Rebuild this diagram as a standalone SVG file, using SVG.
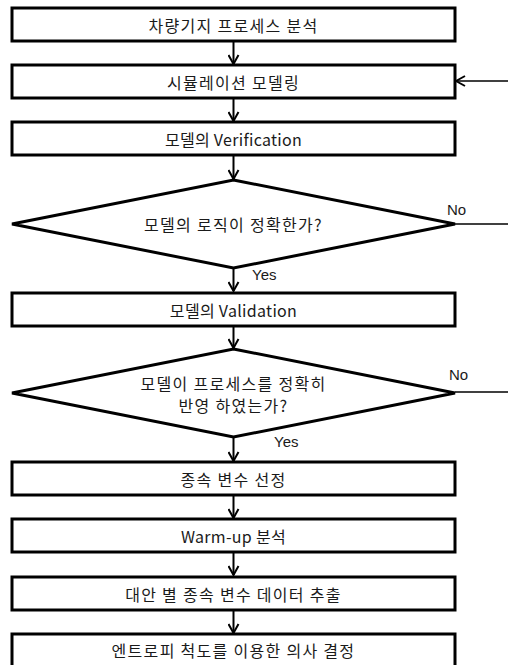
<svg xmlns="http://www.w3.org/2000/svg" width="508" height="665" viewBox="0 0 508 665">
<defs>
<style>
.box{fill:#fff;stroke:#000;stroke-width:3}
.dia{fill:#fff;stroke:#000;stroke-width:3;stroke-linejoin:miter}
.t{font-family:"Malgun Gothic","Noto Sans CJK KR","Liberation Sans",sans-serif;font-size:16px;letter-spacing:1.3px;fill:#1a1a1a;text-anchor:middle;dominant-baseline:central}
.l{letter-spacing:0.3px}
.lbl{font-family:"Liberation Sans","Noto Sans",sans-serif;font-size:15px;fill:#1a1a1a}
.c{fill:none;stroke:#000;stroke-width:2}
.fb{fill:none;stroke:#000;stroke-width:1.5}
</style>
<marker id="ah" viewBox="0 0 12 12" refX="11" refY="6" markerWidth="12" markerHeight="12" markerUnits="userSpaceOnUse" orient="auto">
<path d="M2,1 L11,6 L2,11" fill="none" stroke="#000" stroke-width="2"/>
</marker>
</defs>
<rect width="508" height="665" fill="#fff"/>
<g id="connectors">
<line class="c" x1="233.5" y1="41" x2="233.5" y2="64" marker-end="url(#ah)"/>
<line class="c" x1="233.5" y1="98" x2="233.5" y2="121" marker-end="url(#ah)"/>
<line class="c" x1="233.5" y1="155" x2="233.5" y2="179" marker-end="url(#ah)"/>
<line class="c" x1="233.5" y1="268" x2="233.5" y2="291" marker-end="url(#ah)"/>
<line class="c" x1="233.5" y1="326" x2="233.5" y2="348" marker-end="url(#ah)"/>
<line class="c" x1="233.5" y1="437" x2="233.5" y2="461" marker-end="url(#ah)"/>
<line class="c" x1="233.5" y1="495" x2="233.5" y2="518" marker-end="url(#ah)"/>
<line class="c" x1="233.5" y1="552" x2="233.5" y2="575" marker-end="url(#ah)"/>
<line class="c" x1="233.5" y1="610" x2="233.5" y2="633" marker-end="url(#ah)"/>
<line class="fb" x1="508" y1="81" x2="456" y2="81" marker-end="url(#ah)"/>
<line class="fb" x1="455" y1="224" x2="508" y2="224"/>
<line class="fb" x1="455" y1="392" x2="508" y2="392"/>
<text class="lbl" x="447" y="215">No</text>
<text class="lbl" x="449" y="380">No</text>
<text class="lbl" x="252" y="280">Yes</text>
<text class="lbl" x="274" y="447">Yes</text>
</g>
<g id="n1"><rect class="box" x="12" y="8" width="443" height="33"/><text class="t" x="233.5" y="24.5">차량기지 프로세스 분석</text></g>
<g id="n2"><rect class="box" x="12" y="65" width="443" height="33"/><text class="t" x="233.5" y="81.5">시뮬레이션 모델링</text></g>
<g id="n3"><rect class="box" x="12" y="122" width="443" height="33"/><text class="t l" x="233.5" y="138.5">모델의 Verification</text></g>
<g id="d1"><polygon class="dia" points="233.5,180 455,224 233.5,268 12,224"/><text class="t" x="233.5" y="224">모델의 로직이 정확한가?</text></g>
<g id="n4"><rect class="box" x="12" y="293" width="443" height="33"/><text class="t l" x="233.5" y="309.5">모델의 Validation</text></g>
<g id="d2"><polygon class="dia" points="233.5,349 455,393 233.5,437 12,393"/><text class="t" x="233.5" y="383">모델이 프로세스를 정확히</text><text class="t" x="233.5" y="405">반영 하였는가?</text></g>
<g id="n5"><rect class="box" x="12" y="462" width="443" height="33"/><text class="t" x="233.5" y="478.5">종속 변수 선정</text></g>
<g id="n6"><rect class="box" x="12" y="519" width="443" height="33"/><text class="t l" x="233.5" y="535.5">Warm-up 분석</text></g>
<g id="n7"><rect class="box" x="12" y="577" width="443" height="33"/><text class="t" x="233.5" y="593.5">대안 별 종속 변수 데이터 추출</text></g>
<g id="n8"><rect class="box" x="12" y="634" width="443" height="34"/><text class="t" x="233.5" y="649.5">엔트로피 척도를 이용한 의사 결정</text></g>
</svg>
